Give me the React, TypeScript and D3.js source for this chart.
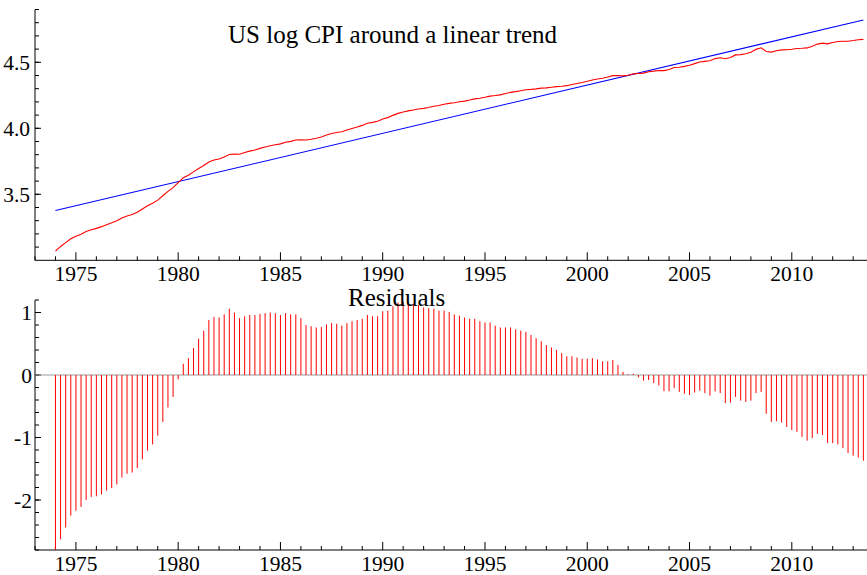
import React from "react";
import * as d3 from "d3";

// quarterly data, 1974Q1 .. 2013Q3
const START_YEAR = 1974;

const logCpi = [
  3.069, 3.105, 3.134, 3.163,
  3.182, 3.197, 3.218, 3.232,
  3.242, 3.255, 3.270, 3.284,
  3.300, 3.321, 3.336, 3.347,
  3.364, 3.388, 3.413, 3.432,
  3.456, 3.489, 3.522, 3.550,
  3.589, 3.625, 3.644, 3.670,
  3.695, 3.718, 3.745, 3.760,
  3.768, 3.783, 3.801, 3.804,
  3.803, 3.816, 3.827, 3.836,
  3.848, 3.858, 3.868, 3.876,
  3.882, 3.894, 3.901, 3.911,
  3.913, 3.911, 3.917, 3.924,
  3.934, 3.949, 3.960, 3.968,
  3.974, 3.987, 3.999, 4.010,
  4.022, 4.038, 4.045, 4.054,
  4.071, 4.081, 4.098, 4.113,
  4.124, 4.132, 4.139, 4.146,
  4.151, 4.158, 4.167, 4.173,
  4.182, 4.189, 4.194, 4.201,
  4.206, 4.214, 4.223, 4.228,
  4.235, 4.244, 4.248, 4.253,
  4.263, 4.272, 4.278, 4.285,
  4.292, 4.295, 4.299, 4.304,
  4.306, 4.311, 4.316, 4.319,
  4.323, 4.332, 4.340, 4.347,
  4.356, 4.366, 4.373, 4.379,
  4.388, 4.399, 4.400, 4.397,
  4.402, 4.412, 4.415, 4.418,
  4.429, 4.433, 4.438, 4.437,
  4.446, 4.461, 4.463, 4.469,
  4.477, 4.490, 4.502, 4.507,
  4.512, 4.528, 4.534, 4.527,
  4.537, 4.556, 4.558, 4.565,
  4.576, 4.598, 4.610, 4.582,
  4.577, 4.587, 4.594, 4.595,
  4.599, 4.605, 4.606, 4.609,
  4.622, 4.638, 4.645, 4.640,
  4.650, 4.657, 4.660, 4.660,
  4.665, 4.671, 4.674,
];

const residuals = [
  -2.88, -2.63, -2.44, -2.25,
  -2.17, -2.11, -2.0, -1.95,
  -1.94, -1.91, -1.85, -1.81,
  -1.75, -1.64, -1.58, -1.56,
  -1.49, -1.35, -1.21, -1.11,
  -0.97, -0.75, -0.52, -0.35,
  -0.07, 0.18, 0.27, 0.43,
  0.58, 0.71, 0.88, 0.93,
  0.92, 0.97, 1.06, 1.0,
  0.91, 0.94, 0.96, 0.96,
  0.98, 0.99, 1.0, 0.99,
  0.96, 0.99, 0.97, 0.97,
  0.91, 0.8, 0.78, 0.76,
  0.77, 0.81, 0.83, 0.82,
  0.79, 0.83, 0.86, 0.88,
  0.9, 0.96, 0.94, 0.94,
  1.02, 1.03, 1.1, 1.16,
  1.17, 1.16, 1.14, 1.12,
  1.08, 1.07, 1.06, 1.03,
  1.03, 1.01, 0.97, 0.95,
  0.92, 0.9, 0.9, 0.86,
  0.84, 0.84, 0.79, 0.76,
  0.76, 0.76, 0.73, 0.71,
  0.69, 0.64, 0.59, 0.54,
  0.48, 0.44, 0.4, 0.35,
  0.3, 0.3, 0.28, 0.26,
  0.26, 0.27, 0.25, 0.22,
  0.22, 0.24, 0.16, 0.05,
  0.01, 0.02, -0.04, -0.09,
  -0.08, -0.13, -0.17, -0.26,
  -0.26, -0.21, -0.27, -0.3,
  -0.32, -0.28, -0.25, -0.29,
  -0.33, -0.26, -0.29, -0.45,
  -0.44, -0.35, -0.41, -0.43,
  -0.41, -0.29, -0.27, -0.62,
  -0.75, -0.74, -0.76, -0.83,
  -0.88, -0.91, -0.99, -1.05,
  -1.01, -0.94, -0.96, -1.09,
  -1.09, -1.11, -1.17, -1.25,
  -1.29, -1.32, -1.37,
];

// fitted linear trend, start and end of sample
const trendYears = [1974, 2013.5];
const trendValues = [3.377, 4.821];

const xMajorTicks = [1975, 1980, 1985, 1990, 1995, 2000, 2005, 2010];
const topYTicks = [3.5, 4.0, 4.5];
const bottomYTicks = [-2, -1, 0, 1];

const W = 867;
const H = 575;
const FONT = "'Liberation Serif', 'Times New Roman', serif";

const quarters = logCpi.map((_, i) => START_YEAR + i / 4);

const x = d3.scaleLinear().domain([1973, 2013.75]).range([35, 868.5]);
const yTop = d3.scaleLinear().domain([3.0, 4.9]).range([260.3, 9.5]);
const yBot = d3.scaleLinear().domain([-2.8, 1.2]).range([550, 300]).clamp(true);

const xMinor = d3.range(1973, 2014);

function Axes({ y, minor, major, fmt, labelRight }) {
  const [y0, y1] = y.range();
  return (
    <g>
      <line x1={35} x2={W} y1={y0} y2={y0} stroke="#000" strokeWidth={1} />
      <line x1={35} x2={35} y1={y0} y2={y1} stroke="#000" strokeWidth={1} />
      {xMinor.map((t) => (
        <line key={"xm" + t} x1={x(t)} x2={x(t)} y1={y0} y2={y0 - (t % 5 === 0 ? 8 : 4)} stroke="#000" />
      ))}
      {minor.map((v) => (
        <line key={"ym" + v} x1={35} x2={39} y1={y(v)} y2={y(v)} stroke="#000" />
      ))}
      {major.map((v) => (
        <g key={"yM" + v}>
          <line x1={35} x2={41} y1={y(v)} y2={y(v)} stroke="#000" />
          <text x={labelRight} y={y(v)} dy="0.35em" textAnchor="end" fontSize={21.5} fontFamily={FONT}>
            {fmt(v)}
          </text>
        </g>
      ))}
      {xMajorTicks.map((t) => (
        <text key={"xl" + t} x={x(t)} y={y0 + 20.5} textAnchor="middle" fontSize={21.5} fontFamily={FONT}>
          {t}
        </text>
      ))}
    </g>
  );
}

export default function App() {
  const cpiLine = d3
    .line<number>()
    .x((_, i) => x(quarters[i]))
    .y((d) => yTop(d));

  const topMinor = d3.range(31, 50).map((v) => v / 10);
  const botMinor = d3.range(-14, 7).map((v) => v / 5);

  return (
    <svg width={W} height={H} style={{ position: "absolute", left: 0, top: 0, background: "#fff" }}>
      {/* top panel */}
      <Axes y={yTop} minor={topMinor} major={topYTicks} fmt={(v) => v.toFixed(1)} labelRight={30} />
      <line
        x1={x(trendYears[0])}
        y1={yTop(trendValues[0])}
        x2={x(trendYears[1])}
        y2={yTop(trendValues[1])}
        stroke="#0000ff"
        strokeWidth={1.1}
      />
      <path d={cpiLine(logCpi) || ""} fill="none" stroke="#ff0000" strokeWidth={1.1} />
      <text x={228} y={43} fontSize={25} fontFamily={FONT}>
        US log CPI around a linear trend
      </text>

      {/* bottom panel */}
      <Axes y={yBot} minor={botMinor} major={bottomYTicks} fmt={(v) => String(v)} labelRight={32} />
      <line x1={35} x2={W} y1={yBot(0)} y2={yBot(0)} stroke="#999" strokeWidth={1.2} />
      {residuals.map((r, i) => (
        <line
          key={i}
          x1={x(quarters[i])}
          x2={x(quarters[i])}
          y1={yBot(0)}
          y2={yBot(r)}
          stroke="#ff0000"
          strokeWidth={1}
        />
      ))}
      <text x={348} y={306} fontSize={25} fontFamily={FONT}>
        Residuals
      </text>
    </svg>
  );
}
